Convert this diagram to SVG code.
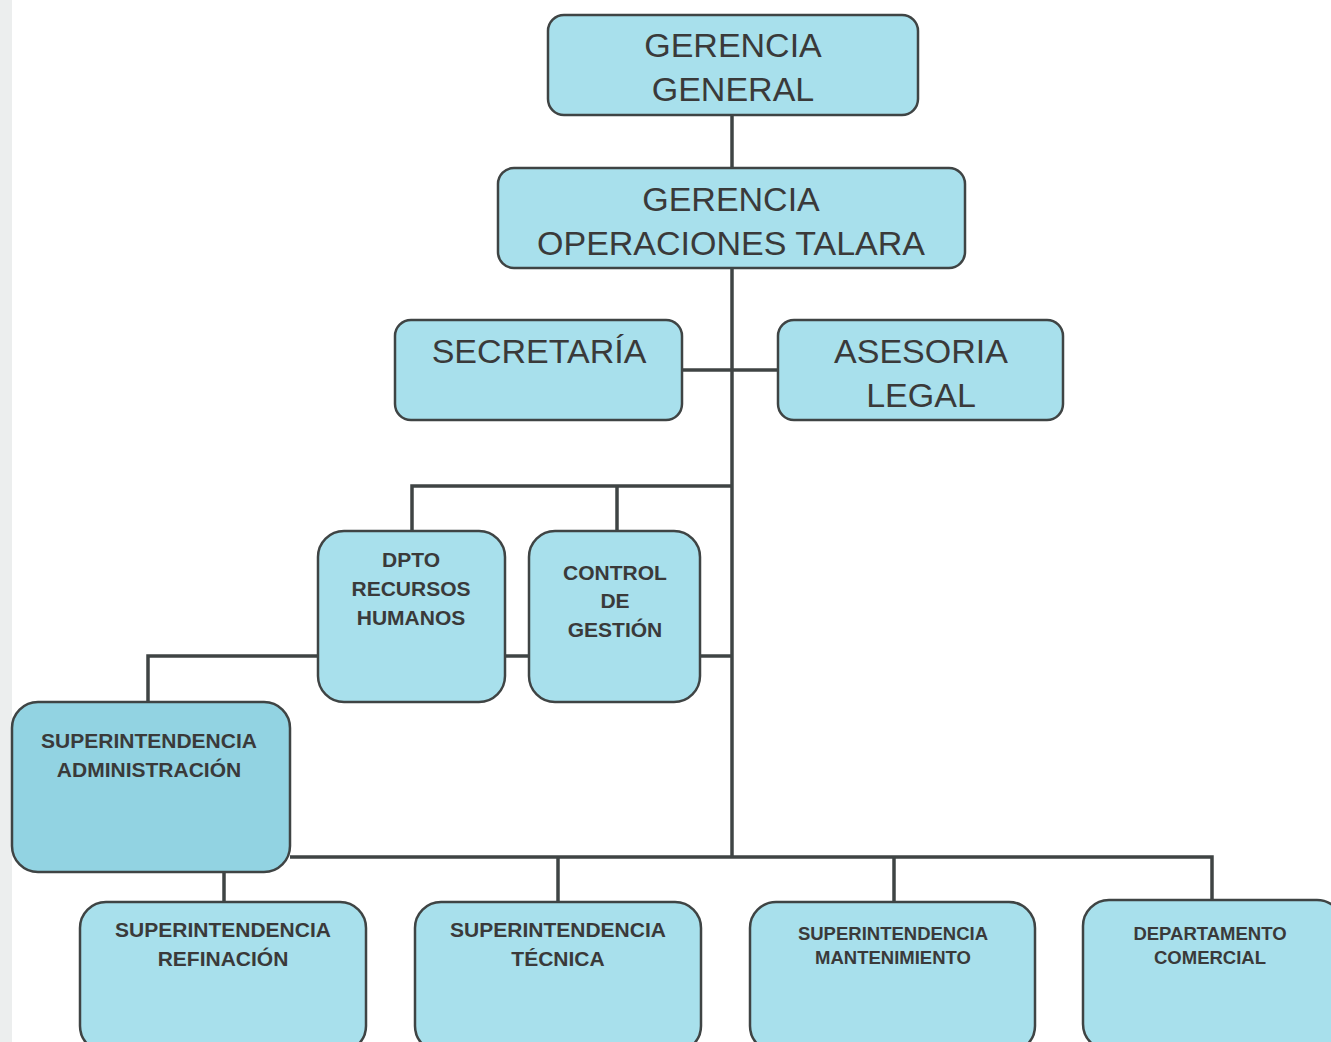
<svg xmlns="http://www.w3.org/2000/svg" width="1331" height="1042" viewBox="0 0 1331 1042">
<style>
.box{fill:#a8e0ec;stroke:#3f4444;stroke-width:2.5}
.dark{fill:#92d3e2}
.big{font-family:"Liberation Sans",Arial,sans-serif;font-size:34px;fill:#3a3a3a;text-anchor:middle}
.sm{font-family:"Liberation Sans",Arial,sans-serif;font-size:21px;font-weight:bold;fill:#3a3a3a;text-anchor:middle}
.xs{font-family:"Liberation Sans",Arial,sans-serif;font-size:18.5px;font-weight:bold;fill:#3a3a3a;text-anchor:middle}
.ln{stroke:#3f4444;stroke-width:3.5;fill:none}
</style>
<rect width="1331" height="1042" fill="#ffffff"/>
<rect x="0" y="0" width="12" height="1042" fill="#eceeee"/>
<g id="connectors">
<path class="ln" d="M732 115 V858"/>
<path class="ln" d="M682 370 H778"/>
<path class="ln" d="M412 531 V486 H732"/>
<path class="ln" d="M617 486 V531"/>
<path class="ln" d="M148 702 V656 H318"/>
<path class="ln" d="M505 656 H529"/>
<path class="ln" d="M700 656 H732"/>
<path class="ln" d="M290 857 H1212 V902"/>
<path class="ln" d="M224 872 V902"/>
<path class="ln" d="M558 857 V902"/>
<path class="ln" d="M894 857 V902"/>
</g>
<g id="gerencia-general">
<rect class="box" x="548" y="15" width="370" height="100" rx="16"/>
<text class="big" x="733" y="57">GERENCIA</text>
<text class="big" x="733" y="101">GENERAL</text>
</g>
<g id="gerencia-operaciones">
<rect class="box" x="498" y="168" width="467" height="100" rx="16"/>
<text class="big" x="731" y="211">GERENCIA</text>
<text class="big" x="731" y="255">OPERACIONES TALARA</text>
</g>
<g id="secretaria">
<rect class="box" x="395" y="320" width="287" height="100" rx="16"/>
<text class="big" x="539" y="363">SECRETARÍA</text>
</g>
<g id="asesoria-legal">
<rect class="box" x="778" y="320" width="285" height="100" rx="16"/>
<text class="big" x="921" y="363">ASESORIA</text>
<text class="big" x="921" y="407">LEGAL</text>
</g>
<g id="dpto-rrhh">
<rect class="box" x="318" y="531" width="187" height="171" rx="26"/>
<text class="sm" x="411" y="567">DPTO</text>
<text class="sm" x="411" y="596">RECURSOS</text>
<text class="sm" x="411" y="625">HUMANOS</text>
</g>
<g id="control-gestion">
<rect class="box" x="529" y="531" width="171" height="171" rx="26"/>
<text class="sm" x="615" y="580">CONTROL</text>
<text class="sm" x="615" y="608">DE</text>
<text class="sm" x="615" y="637">GESTIÓN</text>
</g>
<g id="sup-administracion">
<rect class="box dark" x="12" y="702" width="278" height="170" rx="26"/>
<text class="sm" x="149" y="748">SUPERINTENDENCIA</text>
<text class="sm" x="149" y="777">ADMINISTRACIÓN</text>
</g>
<g id="sup-refinacion">
<rect class="box" x="80" y="902" width="286" height="150" rx="26"/>
<text class="sm" x="223" y="937">SUPERINTENDENCIA</text>
<text class="sm" x="223" y="966">REFINACIÓN</text>
</g>
<g id="sup-tecnica">
<rect class="box" x="415" y="902" width="286" height="150" rx="26"/>
<text class="sm" x="558" y="937">SUPERINTENDENCIA</text>
<text class="sm" x="558" y="966">TÉCNICA</text>
</g>
<g id="sup-mantenimiento">
<rect class="box" x="750" y="902" width="285" height="150" rx="26"/>
<text class="xs" x="893" y="940">SUPERINTENDENCIA</text>
<text class="xs" x="893" y="964">MANTENIMIENTO</text>
</g>
<g id="dpto-comercial">
<rect class="box" x="1083" y="900" width="260" height="150" rx="26"/>
<text class="xs" x="1210" y="940">DEPARTAMENTO</text>
<text class="xs" x="1210" y="964">COMERCIAL</text>
</g>
</svg>
